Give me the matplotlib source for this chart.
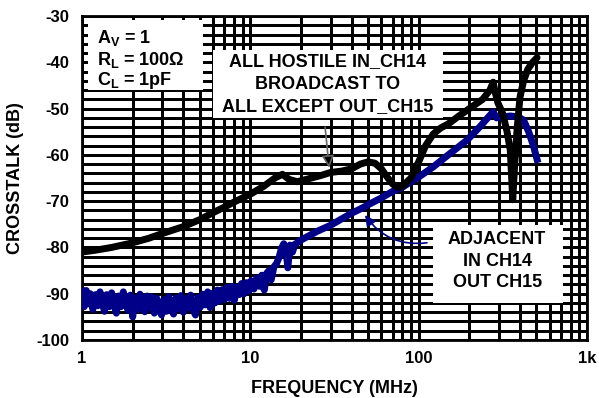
import matplotlib
matplotlib.use("Agg")
import matplotlib.pyplot as plt
from matplotlib.patches import Rectangle
from matplotlib.ticker import LogLocator, MultipleLocator, FixedLocator, FixedFormatter

plt.rcParams['font.family'] = ['Liberation Sans', 'DejaVu Sans']
plt.rcParams['font.weight'] = 'bold'
plt.rcParams['axes.unicode_minus'] = False
plt.rcParams['mathtext.fontset'] = 'custom'
plt.rcParams['mathtext.rm'] = 'Liberation Sans:bold'
plt.rcParams['mathtext.bf'] = 'Liberation Sans:bold'

# all hostile, in_ch14 broadcast to all except out_ch15
hostile_f = [1.0, 1.2, 1.5, 2.0, 2.5, 3.0, 4.0, 5.0, 6.0, 7.0, 8.0, 10, 12, 14, 15.5,
             17, 19, 22, 26, 30, 35, 40, 45, 50, 55, 60, 65, 70, 75, 80, 90, 100,
             110, 122, 135, 150, 175, 200, 240, 265, 277, 285, 295, 315, 335, 350,
             362, 372, 385, 400, 420, 445, 475, 505]
hostile_db = [-81.0, -80.6, -80.0, -79.0, -78.0, -77.0, -75.5, -74.0, -72.5, -71.3, -70.2,
              -68.5, -66.8, -65.0, -64.2, -65.3, -65.8, -65.2, -64.5, -63.8, -63.5, -63.0,
              -62.0, -61.5, -61.8, -63.0, -64.8, -66.3, -67.0, -66.8, -65.0, -61.5, -58.0,
              -55.5, -54.2, -53.3, -51.5, -50.0, -48.0, -46.0, -44.3, -46.5, -48.7, -51.0,
              -55.0, -59.0, -69.7, -62.0, -54.0, -47.5, -44.0, -41.5, -40.0, -39.0]

# adjacent, in ch14 -> out ch15
adj_f = [1.00, 1.03, 1.06, 1.09, 1.12, 1.16, 1.20, 1.24, 1.28, 1.32, 1.36, 1.40, 1.45,
         1.50, 1.55, 1.60, 1.65, 1.70, 1.76, 1.82, 1.88, 1.94, 2.00, 2.07, 2.14, 2.21,
         2.28, 2.36, 2.44, 2.52, 2.60, 2.69, 2.78, 2.87, 2.97, 3.07, 3.17, 3.28, 3.39,
         3.50, 3.62, 3.74, 3.87, 4.00, 4.13, 4.27, 4.42, 4.57, 4.72, 4.88, 5.05, 5.22,
         5.40, 5.58, 5.77, 5.96, 6.16, 6.37, 6.59, 6.81, 7.04, 7.28, 7.53, 7.78, 8.04,
         8.31, 8.59, 8.88, 9.18, 9.49, 9.81, 10.1, 10.5, 10.9, 11.3, 11.7, 12.1, 12.5,
         12.9, 13.3, 13.8, 14.3, 14.8, 15.3, 15.8, 16.3, 16.7, 17.2, 17.8, 18.4, 19.0,
         20.0, 22.5, 25, 30, 35, 40, 45, 50, 60, 70, 80, 90, 100, 122, 150, 194, 230,
         260, 277, 290, 320, 350, 390, 420, 450, 480, 505]
adj_db = [-89.5, -92.8, -89.3, -92.2, -90.0, -93.4, -90.2, -92.6, -89.6, -92.0, -93.8,
          -90.2, -92.8, -89.8, -92.4, -94.2, -90.5, -92.8, -89.6, -92.3, -93.6, -90.3,
          -95.0, -91.0, -93.4, -90.1, -92.6, -93.9, -90.5, -93.0, -90.7, -94.2, -91.0,
          -93.2, -94.6, -91.2, -93.8, -90.6, -93.4, -94.4, -90.9, -93.2, -90.4, -94.0,
          -91.1, -93.0, -90.3, -93.5, -94.6, -90.8, -92.9, -90.1, -92.4, -89.6, -93.0,
          -89.9, -92.0, -89.2, -91.6, -89.1, -91.2, -88.6, -91.0, -88.4, -91.4, -88.5,
          -90.2, -87.8, -90.0, -87.6, -89.4, -87.2, -89.0, -86.6, -88.4, -86.0, -89.2,
          -85.6, -85.0, -87.0, -84.2, -83.5, -82.2, -80.2, -79.2, -80.8, -84.4, -79.5,
          -81.0, -79.3, -79.0, -78.4, -77.4, -76.5, -75.2, -73.8, -72.6, -71.7, -70.8,
          -69.3, -67.9, -67.0, -65.8, -64.8, -62.6, -60.0, -56.8, -54.0, -51.8, -50.7,
          -52.0, -51.8, -51.6, -51.8, -52.5, -55.0, -58.0, -61.0]

decade_ticks = [1, 10, 100, 1000]
decade_labels = ["1", "10", "100", "1k"]

fig = plt.figure(figsize=(5.99, 3.98), dpi=100)
ax = fig.add_axes([0.1369, 0.1457, 0.8431, 0.8141])

ax.set_xscale('log')
ax.set_xlim(1, 1000)
ax.set_ylim(-100, -30)
ax.xaxis.set_major_locator(FixedLocator(decade_ticks))
ax.xaxis.set_major_formatter(FixedFormatter(decade_labels))
ax.xaxis.set_minor_locator(LogLocator(base=10, subs=range(2, 10)))
ax.xaxis.set_minor_formatter(FixedFormatter([]))
ax.yaxis.set_major_locator(MultipleLocator(10))
ax.yaxis.set_minor_locator(MultipleLocator(2))
ax.set_axisbelow(True)
ax.grid(True, which='both', color='black', linewidth=2, antialiased=False)
ax.tick_params(which='both', length=0)
ax.tick_params(axis='y', pad=9, labelsize=12)
ax.tick_params(axis='x', pad=8, labelsize=12)
for s in ax.spines.values():
    s.set_linewidth(2)

ax.set_xlabel("FREQUENCY (MHz)", fontsize=13, fontweight='bold', labelpad=10)
ax.set_ylabel("CROSSTALK (dB)", fontsize=13, fontweight='bold', labelpad=9)

# white label boxes over the grid
for x0, y0, w, h in [(0.012, 0.772, 0.228, 0.216),
                     (0.259, 0.685, 0.456, 0.210),
                     (0.695, 0.114, 0.257, 0.241)]:
    ax.add_patch(Rectangle((x0, y0), w, h, transform=ax.transAxes,
                           facecolor='white', edgecolor='none', zorder=2))

ax.plot(hostile_f, hostile_db, color='black', linewidth=5, zorder=4,
        solid_joinstyle='round', solid_capstyle='round')
ax.plot(adj_f, adj_db, color='#000088', linewidth=5, zorder=3,
        solid_joinstyle='round')

tk = dict(transform=ax.transAxes, fontsize=13, fontweight='bold', zorder=5)
ax.text(0.03, 0.932, r"A$_\mathbf{V}$ = 1", va='center', ha='left', **tk)
ax.text(0.03, 0.864, r"R$_\mathbf{L}$ = 100Ω", va='center', ha='left', **tk)
ax.text(0.03, 0.800, r"C$_\mathbf{L}$ = 1pF", va='center', ha='left', **tk)

ax.text(0.487, 0.858, "ALL HOSTILE IN_CH14", va='center', ha='center', **tk)
ax.text(0.487, 0.788, "BROADCAST TO", va='center', ha='center', **tk)
ax.text(0.487, 0.719, "ALL EXCEPT OUT_CH15", va='center', ha='center', **tk)

ax.text(0.822, 0.309, "ADJACENT", va='center', ha='center', **tk)
ax.text(0.822, 0.242, "IN CH14", va='center', ha='center', **tk)
ax.text(0.822, 0.176, "OUT CH15", va='center', ha='center', **tk)

ax.annotate("", xy=(29.4, -62.8), xytext=(27.8, -54),
            arrowprops=dict(arrowstyle='-|>', fc='black', ec='#666666',
                            lw=1.2, mutation_scale=18, shrinkA=0, shrinkB=0), zorder=6)
ax.annotate("", xy=(48, -73), xytext=(112, -79),
            arrowprops=dict(arrowstyle='-|>', color='#000088', lw=1.2, mutation_scale=16,
                            shrinkA=0, shrinkB=0, connectionstyle='arc3,rad=-0.3'), zorder=6)

fig.savefig("out.png", dpi=100)
